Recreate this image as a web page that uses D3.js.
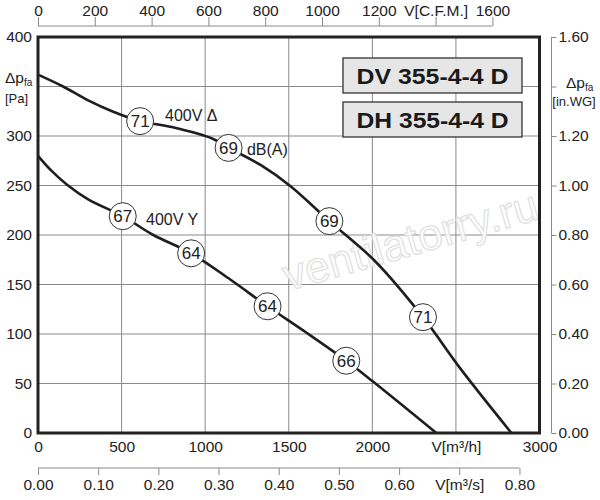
<!DOCTYPE html>
<html><head><meta charset="utf-8">
<script src="https://cdn.jsdelivr.net/npm/d3@7"></script>
<style>
body{margin:0;background:#fff;}
svg{font-family:"Liberation Sans",Arial,sans-serif;}
</style></head>
<body><svg id="c" width="600" height="500"></svg>
<script>
// ---- data ----
const curveDelta = [[0,362],[150,350],[300,336],[450,324.5],[611,315],[800,309],[1048,297],[1140,288],[1329,271],[1509,249.5],[1743,214],[2008,175],[2303,117],[2527,65],[2832,0]];
const curveY = [[0,280],[80,265],[172,251],[300,236],[507,219],[690,200],[916,181.5],[1150,155],[1373,128],[1600,102],[1844,73],[2000,52.5],[2383,0]];
const noiseDelta = [[611,315,"71"],[1140,288,"69"],[1743,214,"69"],[2303,117,"71"]];
const noiseY = [[507,219,"67"],[916,181.5,"64"],[1373,128,"64"],[1844,73,"66"]];
const flowTicks = [0,500,1000,1500,2000,2500,3000];
const pressTicks = [0,50,100,150,200,250,300,350,400];
const cfmTicks = [0,200,400,600,800,1000,1200,1400,1600];
const m3sTicks = [0,0.1,0.2,0.3,0.4,0.5,0.6,0.7,0.8];
const inwgTicks = [0,0.2,0.4,0.6,0.8,1.0,1.2,1.4,1.6];
const modelNames = ["DV 355-4-4 D","DH 355-4-4 D"];
const curveLabels = ["400V Δ","dB(A)","400V Y"];

// ---- layout ----
const svg = d3.select("#c");
const L=38, R=539.5, T=37, B=433;
const x = d3.scaleLinear().domain([0,3000]).range([L,R]);
const y = d3.scaleLinear().domain([0,400]).range([B,T]);
const xCfm = d3.scaleLinear().domain([0,3000/1.699]).range([L,R]);
const xM3s = d3.scaleLinear().domain([0,3000/3600]).range([L,R]);
const yIn = d3.scaleLinear().domain([0,1.6]).range([B,T]);
const txt="#222", gridC="#8a8a8a", axC="#8a8a8a";

// grid
svg.append("g").selectAll("line").data(flowTicks.slice(1,-1)).join("line")
  .attr("x1",d=>x(d)).attr("x2",d=>x(d)).attr("y1",T).attr("y2",B)
  .attr("stroke",gridC).attr("stroke-width",1);
svg.append("g").selectAll("line").data(pressTicks.slice(1,-1)).join("line")
  .attr("y1",d=>y(d)).attr("y2",d=>y(d)).attr("x1",L).attr("x2",R)
  .attr("stroke",gridC).attr("stroke-width",1);

// watermark
svg.append("text").attr("transform",`translate(288,291) rotate(-16)`)
  .attr("font-size",44).attr("fill","#fff").attr("fill-opacity",0.85).attr("stroke","#e0e0e0").attr("stroke-width",1.2)
  .text("ventilatorry.ru");

// model boxes
modelNames.forEach((n,i)=>{
  const by = 58 + i*44;
  svg.append("rect").attr("x",343).attr("y",by).attr("width",179).attr("height",35)
    .attr("fill","#e6e6e6").attr("stroke","#333").attr("stroke-width",1.3);
  svg.append("text").attr("x",432.5).attr("y",by+25.5).attr("text-anchor","middle")
    .attr("font-size",22).attr("font-weight","bold").attr("fill","#1a1a1a")
    .attr("textLength",152).attr("lengthAdjust","spacingAndGlyphs").text(n);
});

// curves
const line = d3.line().x(d=>x(d[0])).y(d=>y(d[1])).curve(d3.curveCatmullRom.alpha(0.5));
[curveDelta,curveY].forEach(c=>{
  svg.append("path").attr("d",line(c)).attr("fill","none").attr("stroke","#1e1e1e").attr("stroke-width",2.6);
});

// curve labels
const labPos=[[760,315],[1250,280.5],[646,210]];
curveLabels.forEach((t,i)=>{
  svg.append("text").attr("x",x(labPos[i][0])).attr("y",y(labPos[i][1])).attr("font-size",16).attr("fill",txt).text(t);
});

// noise circles
[...noiseDelta,...noiseY].forEach(d=>{
  const g=svg.append("g").attr("transform",`translate(${x(d[0])},${y(d[1])})`);
  g.append("circle").attr("r",13.5).attr("fill","#fff").attr("stroke","#333").attr("stroke-width",1);
  g.append("text").attr("text-anchor","middle").attr("y",6).attr("font-size",17).attr("fill",txt).text(d[2]);
});

// plot border
svg.append("rect").attr("x",L).attr("y",T).attr("width",R-L).attr("height",B-T)
  .attr("fill","none").attr("stroke","#222").attr("stroke-width",3);

// bottom m3/h labels
const gB = svg.append("g").attr("transform",`translate(0,${B})`)
  .call(d3.axisBottom(x).tickValues(flowTicks).tickSize(0).tickPadding(8)
    .tickFormat(d=>d===2500?"V[m³/h]":d));
gB.select(".domain").remove();
gB.selectAll("text").attr("font-size",15.5).attr("fill",txt).attr("font-family",null);

// left labels
const gL = svg.append("g").attr("transform",`translate(${L},0)`)
  .call(d3.axisLeft(y).tickValues(pressTicks.filter(d=>d!==350)).tickSize(0).tickPadding(6));
gL.select(".domain").remove();
gL.selectAll("text").attr("font-size",15.5).attr("fill",txt).attr("font-family",null);
const lp = svg.append("text").attr("x",5).attr("y",83).attr("font-size",15.5).attr("fill",txt);
lp.append("tspan").text("Δp");
lp.append("tspan").attr("font-size",10).attr("dy",3).text("fa");
svg.append("text").attr("x",5).attr("y",103).attr("font-size",13).attr("fill",txt).text("[Pa]");

// top CFM axis
const gT = svg.append("g").attr("transform","translate(0,26)")
  .call(d3.axisTop(xCfm).tickValues(cfmTicks).tickSize(9).tickPadding(1)
    .tickFormat(d=>d===1400?"V[C.F.M.]":d));
gT.selectAll("text").attr("font-size",15.5).attr("fill",txt).attr("font-family",null);
gT.selectAll("line").attr("stroke",axC);
gT.select(".domain").attr("stroke",axC).attr("d",`M${xCfm(0)},0H${xCfm(1600)}`);

// bottom m3/s axis
const gS = svg.append("g").attr("transform","translate(0,468)")
  .call(d3.axisBottom(xM3s).tickValues(m3sTicks).tickSize(7).tickPadding(4)
    .tickFormat(d=>Math.abs(d-0.7)<1e-9?"V[m³/s]":d3.format(".2f")(d)));
gS.selectAll("text").attr("font-size",15.5).attr("fill",txt).attr("font-family",null);
gS.selectAll("line").attr("stroke",axC);
gS.select(".domain").attr("stroke",axC).attr("d",`M${xM3s(0)},0H${xM3s(0.8)}`);

// right in.WG axis
const gR = svg.append("g").attr("transform","translate(551.5,0)")
  .call(d3.axisRight(yIn).tickValues(inwgTicks).tickSize(5).tickPadding(2)
    .tickFormat(d=>Math.abs(d-1.4)<1e-9?"":d3.format(".2f")(d)));
gR.selectAll("text").attr("font-size",15.5).attr("fill",txt).attr("font-family",null);
gR.selectAll("line").attr("stroke",axC);
gR.select(".domain").attr("stroke",axC).attr("d",`M0,${yIn(0)}V${yIn(1.6)}`);
const rp = svg.append("text").attr("x",566).attr("y",88).attr("font-size",15.5).attr("fill",txt);
rp.append("tspan").text("Δp");
rp.append("tspan").attr("font-size",10).attr("dy",3).text("fa");
svg.append("text").attr("x",574).attr("y",106).attr("text-anchor","middle").attr("font-size",13).attr("fill",txt).text("[in.WG]");
</script></body></html>
